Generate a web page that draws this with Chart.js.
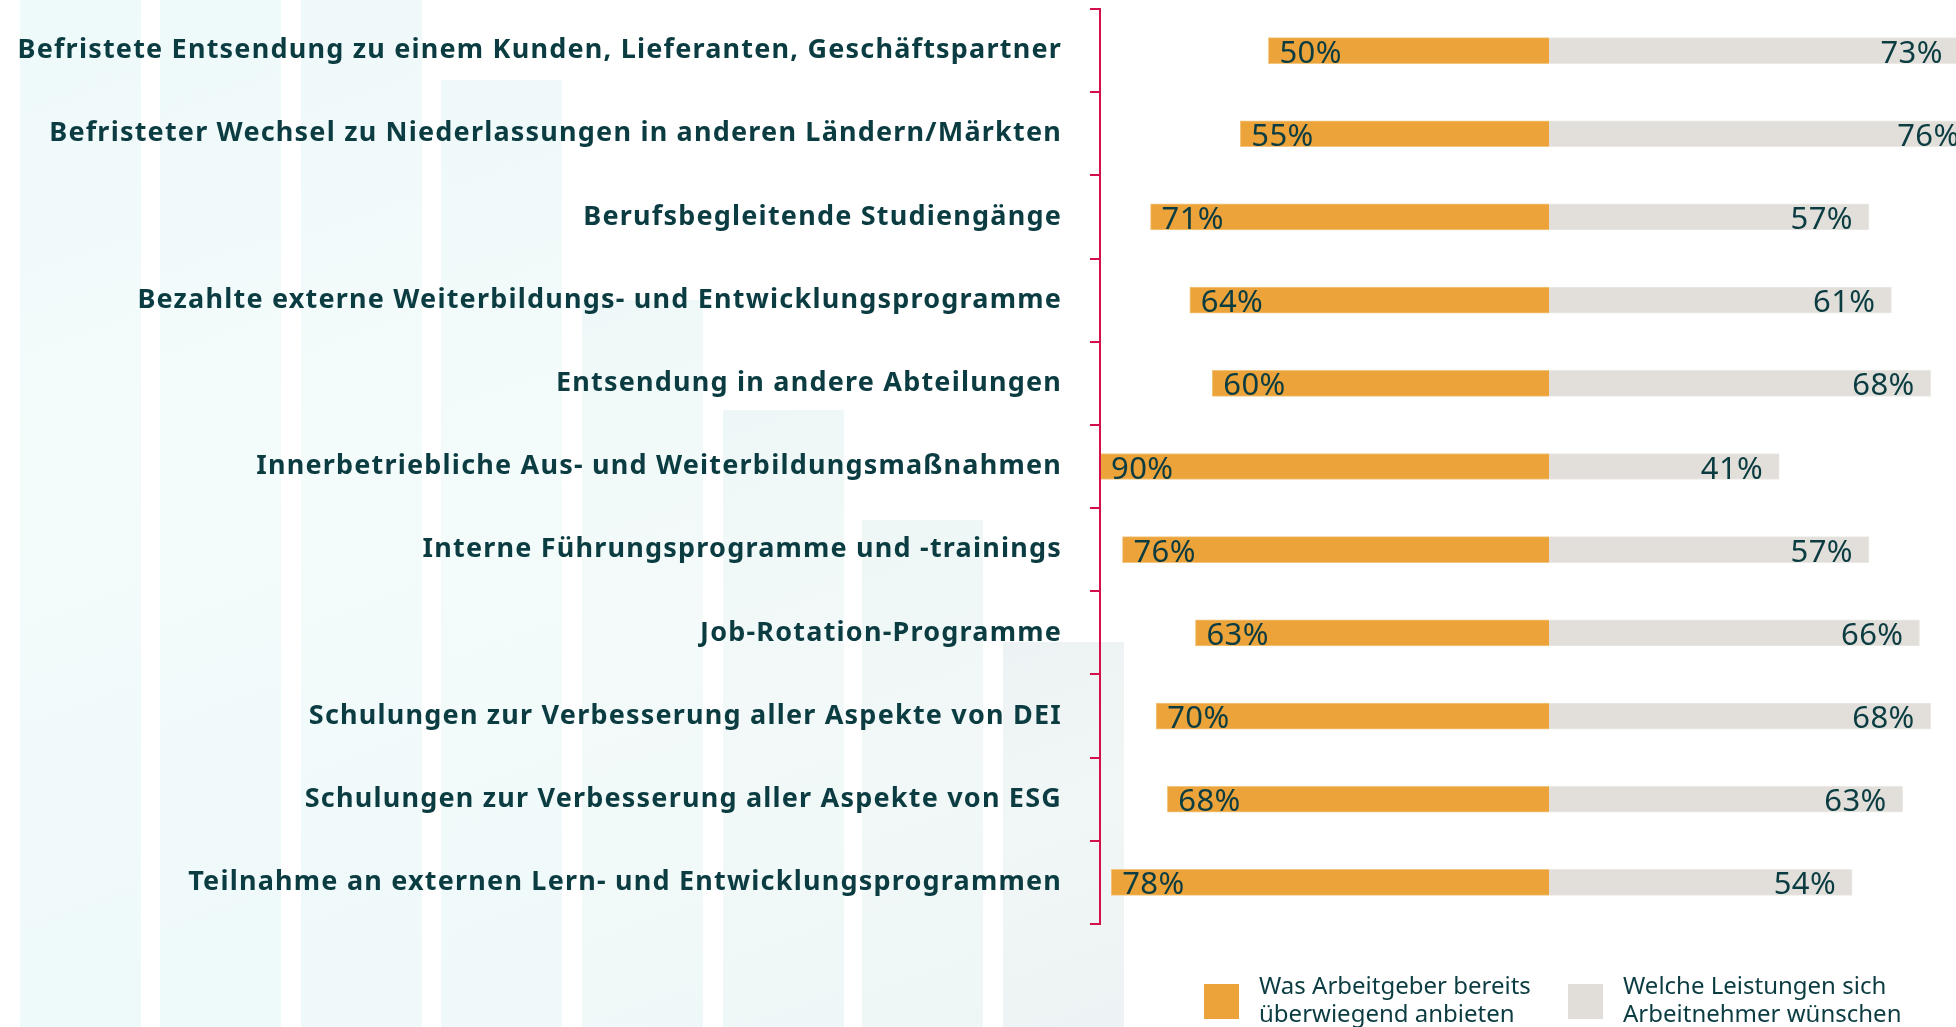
<!DOCTYPE html>
<html lang="de">
<head>
<meta charset="utf-8">
<title>Angebote vs. Wünsche</title>
<script src="https://cdn.jsdelivr.net/npm/chart.js@4/dist/chart.umd.min.js"></script>
<style>
  html, body { margin: 0; padding: 0; background: #ffffff; }
  #wrap { position: relative; width: 1956px; height: 1027px; overflow: hidden; }
  .deco { position: absolute; bottom: 0; width: 121px; }
  #chart { position: absolute; left: 0; top: 0; }
  .legend { position: absolute; top: 971px; font-family: "Noto Sans", sans-serif; font-size: 24px; line-height: 28px; color: #0b3c41; white-space: nowrap; }
  .sw { position: absolute; width: 35px; height: 35px; top: 984px; }
</style>
</head>
<body>
<div id="wrap">
  <div id="decos"></div>
  <canvas id="chart" width="1956" height="1027"></canvas>
  <div class="sw" style="left:1204px;background:#eba33a"></div>
  <div class="legend" style="left:1259px">Was Arbeitgeber bereits<br>überwiegend anbieten</div>
  <div class="sw" style="left:1568px;background:#e1ded9"></div>
  <div class="legend" style="left:1623px">Welche Leistungen sich<br>Arbeitnehmer wünschen</div>
</div>
<script>
const categories = [
  "Befristete Entsendung zu einem Kunden, Lieferanten, Geschäftspartner",
  "Befristeter Wechsel zu Niederlassungen in anderen Ländern/Märkten",
  "Berufsbegleitende Studiengänge",
  "Bezahlte externe Weiterbildungs- und Entwicklungsprogramme",
  "Entsendung in andere Abteilungen",
  "Innerbetriebliche Aus- und Weiterbildungsmaßnahmen",
  "Interne Führungsprogramme und -trainings",
  "Job-Rotation-Programme",
  "Schulungen zur Verbesserung aller Aspekte von DEI",
  "Schulungen zur Verbesserung aller Aspekte von ESG",
  "Teilnahme an externen Lern- und Entwicklungsprogrammen"
];
const offeredByEmployers = [50, 55, 71, 64, 60, 90, 76, 63, 70, 68, 78];
const desiredByEmployees = [73, 76, 57, 61, 68, 41, 57, 66, 68, 63, 54];
const seriesNames = ["Was Arbeitgeber bereits überwiegend anbieten", "Welche Leistungen sich Arbeitnehmer wünschen"];

// decorative background columns (layout only)
const decoCols = [
  {left: 20, top: -5, c1: "#eef9fa", c2: "#f4fbfb"},
  {left: 160, top: -5, c1: "#eef9fa", c2: "#f4fbfb"},
  {left: 301, top: -5, c1: "#eff9fa", c2: "#f4fbfb"},
  {left: 441, top: 80, c1: "#eff9f9", c2: "#f4fbfb"},
  {left: 582, top: 300, c1: "#eff8f8", c2: "#f4fafa"},
  {left: 723, top: 410, c1: "#eef7f7", c2: "#f3f9f9"},
  {left: 862, top: 520, c1: "#eef6f6", c2: "#f2f8f8"},
  {left: 1003, top: 642, c1: "#edf3f4", c2: "#f1f6f6"}
];
const decoHost = document.getElementById("decos");
decoCols.forEach(d => {
  const el = document.createElement("div");
  el.className = "deco";
  el.style.left = d.left + "px";
  el.style.top = d.top + "px";
  el.style.background = "linear-gradient(160deg," + d.c1 + " 0%," + d.c2 + " 45%," + d.c1 + " 100%)";
  decoHost.appendChild(el);
});

const TEXT = "#0b3c41";
const RED = "#d3104a";

const spacing = {
  id: "spacing",
  beforeDraw(chart) { chart.ctx.letterSpacing = "1.2px"; },
  beforeDatasetsDraw(chart) { chart.ctx.letterSpacing = "0px"; }
};

const valueLabels = {
  id: "valueLabels",
  afterDatasetsDraw(chart) {
    const ctx = chart.ctx;
    const area = chart.chartArea;
    ctx.save();
    ctx.letterSpacing = "0.4px";
    ctx.font = "31px 'Noto Sans'";
    ctx.fillStyle = TEXT;
    ctx.textBaseline = "alphabetic";
    chart.getDatasetMeta(0).data.forEach((bar, i) => {
      const x = Math.max(bar.x, area.left) + 11;
      ctx.textAlign = "left";
      ctx.fillText(offeredByEmployers[i] + "%", x, bar.y + 12);
    });
    chart.getDatasetMeta(1).data.forEach((bar, i) => {
      ctx.textAlign = "right";
      ctx.fillText(desiredByEmployees[i] + "%", bar.x - 16, bar.y + 12);
    });
    ctx.restore();
  }
};

new Chart(document.getElementById("chart"), {
  type: "bar",
  data: {
    labels: categories,
    datasets: [
      {
        label: seriesNames[0],
        data: offeredByEmployers.map(v => -v),
        backgroundColor: "#eba33a",
        borderColor: "#f3c47e",
        borderWidth: 1,
        barThickness: 26,
        clip: {left: -1, right: false, top: false, bottom: false}
      },
      {
        label: seriesNames[1],
        data: desiredByEmployees,
        backgroundColor: "#e2dfda",
        borderColor: "#ebe9e5",
        borderWidth: 1,
        barThickness: 26,
        clip: {left: -1, right: 0, top: false, bottom: false}
      }
    ]
  },
  options: {
    indexAxis: "y",
    responsive: false,
    animation: false,
    devicePixelRatio: 1,
    layout: { padding: { top: 9, bottom: 103, left: 0, right: 0 } },
    plugins: {
      legend: { display: false },
      tooltip: { enabled: false }
    },
    scales: {
      x: {
        display: false,
        stacked: true,
        min: -80,
        max: 72.5
      },
      y: {
        stacked: true,
        afterFit: (scale) => {
          scale.width = 1100;
          scale.paddingTop = 0;
          scale.paddingBottom = 0;
        },
        border: { display: true, color: RED, width: 2 },
        grid: {
          drawOnChartArea: false,
          drawTicks: true,
          tickLength: 10,
          color: RED,
          lineWidth: 2
        },
        ticks: {
          padding: 28,
          color: TEXT,
          font: { family: "'Noto Sans'", size: 27, weight: "bold" },
          autoSkip: false
        }
      }
    }
  },
  plugins: [spacing, valueLabels]
});
</script>
</body>
</html>
